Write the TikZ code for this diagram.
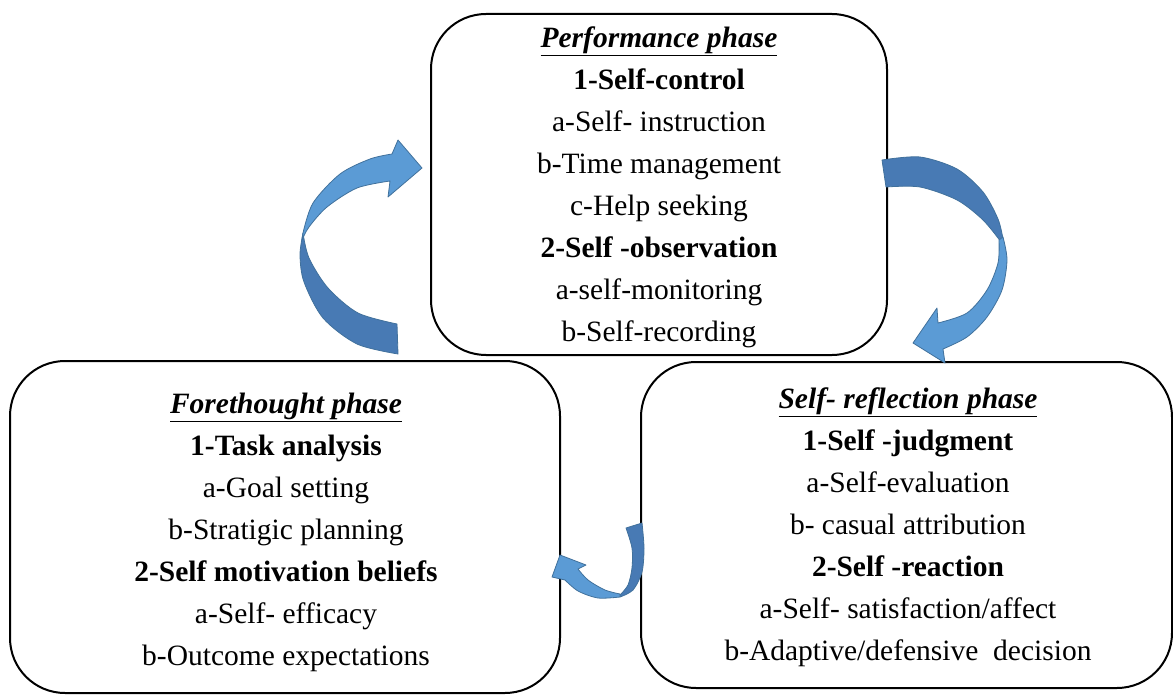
\documentclass[tikz,border=0pt]{standalone}
\usepackage{fontspec}
\setmainfont{Liberation Serif}
\definecolor{arrlight}{RGB}{91,155,213}
\definecolor{arrdark}{RGB}{72,122,180}
\definecolor{arrline}{RGB}{65,113,156}
\tikzset{
  phasebox/.style={draw=black, line width=2pt, rounded corners=55pt, inner sep=0pt},
  phasetext/.style={inner sep=0pt, align=center, font=\fontsize{29.5}{42}\selectfont},
  backpart/.style={fill=arrdark, draw=arrline, line width=0.8pt, line join=round},
  frontpart/.style={fill=arrlight, draw=arrline, line width=0.8pt, line join=round}
}
\newcommand{\phasetitle}[1]{\underline{\textbf{\textit{#1}}}}
\begin{document}
\begin{tikzpicture}[x=1pt,y=-1pt]
\useasboundingbox (0,0) rectangle (1173,695);
% boxes
\node[phasebox, minimum width=456pt, minimum height=341pt] (perf) at (659,184.5) {};
\node[phasebox, minimum width=550pt, minimum height=332pt] (fore) at (285,527) {};
\node[phasebox, minimum width=531pt, minimum height=326pt] (refl) at (906.5,525) {};
% texts
\node[phasetext] (perftext) at (659,187.5)
 {\phasetitle{Performance phase}\\
  \textbf{1-Self-control}\\
  a-Self- instruction\\
  b-Time management\\
  c-Help seeking\\
  \textbf{2-Self -observation}\\
  a-self-monitoring\\
  b-Self-recording};
\node[phasetext] (foretext) at (286,532)
 {\phasetitle{Forethought phase}\\
  \textbf{1-Task analysis}\\
  a-Goal setting\\
  b-Stratigic planning\\
  \textbf{2-Self motivation beliefs}\\
  a-Self- efficacy\\
  b-Outcome expectations};
\node[phasetext] (refltext) at (908,527)
 {\phasetitle{Self- reflection phase}\\
  \textbf{1-Self -judgment}\\
  a-Self-evaluation\\
  b- casual attribution\\
  \textbf{2-Self -reaction}\\
  a-Self- satisfaction/affect\\
  b-Adaptive/defensive\ \ decision};
% arrow: forethought -> performance
\path[backpart] plot[smooth] coordinates {(398,354) (357,344) (323,318) (304,282) (300,255) (303,233)}
  -- plot[smooth] coordinates {(303,233) (309,258) (328,288) (358,313) (397,324)} -- cycle;
\path[frontpart] plot[smooth] coordinates {(303,233) (313,203) (340,174) (370,159) (392,154)}
  -- (398,140) -- (422,168) -- (388,197)
  -- plot[smooth] coordinates {(390,181) (357,188) (327,207) (309,227) (302,240)} -- cycle;
% arrow: performance -> self-reflection
\path[backpart] plot[smooth] coordinates {(882,160) (920,157) (957,169) (983,192) (998,219) (1003,239)}
  -- plot[smooth] coordinates {(1001,242) (983,220) (957,200) (920,187) (886,187)} -- cycle;
\path[frontpart] plot[smooth] coordinates {(1003,237) (1007,260) (1002,290) (987,317) (967,337) (943,349)}
  -- (945,363) -- (913,343) -- (937,308)
  -- plot[smooth] coordinates {(938,323) (967,313) (987,290) (998,263) (999,240)} -- cycle;
% arrow: self-reflection -> forethought
\path[backpart] plot[smooth] coordinates {(642,523) (644,548) (642,572) (633,590) (620,597)}
  -- plot[smooth] coordinates {(620,595) (628,585) (632,568) (632,548) (626,528)} -- cycle;
\path[frontpart] plot[smooth] coordinates {(620,597) (598,598) (578,591) (565,580)}
  -- (552,577) -- (560,555) -- (586,565)
  -- plot[smooth] coordinates {(578,569) (588,580) (605,590) (620,594)} -- cycle;
\end{tikzpicture}
\end{document}
